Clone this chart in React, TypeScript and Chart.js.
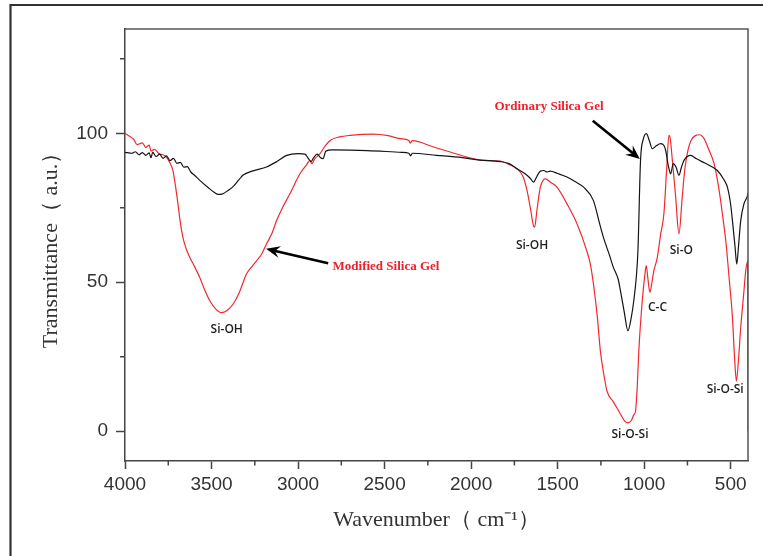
import { useEffect, useRef } from "react";
import { Chart, registerables } from "chart.js";

Chart.register(...registerables);

// ---------- data ----------
const ordinaryWavenumber = [
  4000, 3960, 3940, 3920, 3900, 3880, 3860, 3850, 3840, 3820, 3800, 3780, 3760, 3740, 3720, 3700,
  3680, 3660, 3640, 3620, 3600, 3568, 3520, 3480, 3462, 3440, 3400, 3377, 3340, 3319, 3260, 3182,
  3120, 3066, 3000, 2960, 2940, 2925, 2910, 2890, 2870, 2855, 2840, 2800, 2600, 2400, 2360, 2350,
  2340, 2200, 2050, 1950, 1831, 1780, 1735, 1690, 1660, 1639, 1620, 1600, 1581, 1560, 1542, 1500,
  1446, 1400, 1350, 1293, 1262, 1235, 1200, 1178, 1150, 1137, 1115, 1094, 1075, 1060, 1045, 1036,
  1021, 1005, 987, 970, 953, 930, 905, 885, 876, 860, 847, 832, 815, 799, 785, 770, 731, 700, 650,
  600, 577, 540, 519, 500, 490, 475, 465, 455, 442, 423, 410, 403, 400,
];
const ordinaryTransmittance = [
  93.6, 93.3, 93.8, 92.8, 93.5, 92.6, 93.4, 91.8, 93.6, 92.2, 93.0, 91.6, 92.4, 90.8, 91.6, 89.9,
  90.2, 88.6, 88.8, 87.0, 86.0, 84.2, 81.8, 80.0, 79.5, 79.6, 81.0, 82.0, 84.5, 85.9, 87.4, 88.7,
  90.6, 92.6, 93.2, 93.0, 91.5, 90.5, 91.8, 93.0, 91.8, 91.5, 94.0, 94.4, 94.2, 93.6, 93.3, 92.4,
  93.3, 92.6, 91.8, 91.0, 90.5, 89.8, 88.1, 86.5, 85.0, 83.6, 85.5, 87.3, 87.5, 87.0, 87.3, 86.5,
  85.3, 83.8, 81.9, 77.4, 70.7, 65.0, 59.0, 55.0, 51.0, 47.1, 40.0, 33.7, 38.0, 43.8, 52.0, 60.6,
  90.9, 98.0, 99.9, 97.5, 94.8, 95.8, 96.5, 95.8, 94.3, 89.0, 86.4, 89.8, 88.5, 85.9, 88.5, 90.9,
  92.6, 91.5, 90.0, 88.5, 87.5, 84.5, 81.9, 76.0, 70.7, 62.0, 56.1, 62.0, 70.7, 76.4, 78.0, 79.1,
  80.0,
];

const modifiedWavenumber = [
  4000, 3970, 3950, 3930, 3900, 3880, 3860, 3850, 3830, 3800, 3780, 3761, 3740, 3723, 3710, 3694,
  3680, 3665, 3645, 3626, 3600, 3568, 3540, 3510, 3475, 3443, 3410, 3375, 3340, 3298, 3270, 3240,
  3210, 3182, 3150, 3124, 3090, 3047, 2989, 2950, 2931, 2920, 2905, 2873, 2840, 2815, 2760, 2700,
  2565, 2480, 2410, 2360, 2352, 2340, 2217, 2121, 2024, 1928, 1831, 1780, 1735, 1700, 1677, 1655,
  1640, 1633, 1620, 1600, 1580, 1571, 1540, 1504, 1446, 1388, 1332, 1311, 1293, 1270, 1253, 1230,
  1215, 1180, 1157, 1130, 1110, 1094, 1075, 1060, 1050, 1040, 1031, 1011, 995, 988, 978, 967, 955,
  944, 925, 905, 886, 870, 857, 850, 837, 818, 799, 780, 765, 751, 730, 702, 680, 654, 630, 596,
  570, 548, 525, 510, 490, 478, 467, 455, 442, 425, 413, 402, 400,
];
const modifiedTransmittance = [
  100, 98.8, 98.0, 96.2, 96.8, 95.3, 96.0, 94.0, 94.6, 93.0, 92.8, 92.0, 90.0, 87.5, 83.0, 76.3,
  70.0, 65.0, 61.0, 58.4, 55.5, 51.6, 47.5, 43.8, 41.0, 39.8, 40.5, 42.7, 46.5, 52.8, 55.0, 57.2,
  59.5, 62.9, 66.5, 70.7, 75.0, 79.7, 86.4, 89.5, 90.9, 89.8, 91.3, 93.2, 96.0, 97.6, 98.8, 99.3,
  99.7, 99.2, 98.2, 97.6, 96.7, 97.5, 95.4, 93.7, 92.0, 90.9, 90.7, 89.5, 88.1, 85.5, 80.8, 74.0,
  69.0, 68.5, 74.0, 81.9, 84.5, 84.7, 83.5, 81.9, 76.3, 69.6, 60.6, 56.1, 49.4, 38.0, 26.9, 18.0,
  13.5, 10.0, 7.8, 5.0, 3.2, 2.8, 3.5, 5.5, 6.7, 15.0, 26.9, 43.8, 53.0, 55.6, 51.0, 46.6, 50.0,
  53.9, 58.0, 66.0, 73.0, 88.0, 99.3, 98.5, 90.9, 78.6, 66.2, 78.6, 88.0, 93.2, 97.5, 99.3, 99.5,
  98.2, 95.0, 89.8, 82.0, 73.0, 62.0, 52.0, 38.2, 25.0, 16.8, 24.0, 34.8, 46.0, 53.9, 57.0, 0,
];

const xMajorTicks = [4000, 3500, 3000, 2500, 2000, 1500, 1000, 500];
const xMinorTicks = [3750, 3250, 2750, 2250, 1750, 1250, 750];
const yMajorTicks = [0, 50, 100];
const yMinorTicks = [25, 75, 125];

const peakLabels = [
  { text: "Si-OH", x: 3412, y: 34 },
  { text: "Si-OH", x: 1648, y: 62.3 },
  { text: "Si-O", x: 785, y: 60.6 },
  { text: "C-C", x: 923, y: 41.6 },
  { text: "Si-O-Si", x: 1082, y: -1 },
  { text: "Si-O-Si", x: 532, y: 14.1 },
];

const sampleLabels = [
  { text: "Ordinary Silica Gel", x: 1550, y: 108.9, fromX: 1297, fromY: 104.2, toX: 1025, toY: 91.4 },
  { text: "Modified Silica Gel", x: 2492, y: 55.2, fromX: 2826, fromY: 56.4, toX: 3185, toY: 61.2 },
];

const SANS = "'Liberation Sans', Arial, sans-serif";
const SERIF = "'Liberation Serif', 'Times New Roman', serif";

function zip(xs: number[], ys: number[]) {
  return xs.map((x, i) => ({ x, y: ys[i] }));
}

const decorPlugin = {
  id: "decor",
  afterDraw(chart: any) {
    const ctx = chart.ctx as CanvasRenderingContext2D;
    const { left, right, top, bottom } = chart.chartArea;
    const xs = chart.scales.x;
    const ys = chart.scales.y;
    ctx.save();

    // plot frame (top & right)
    ctx.strokeStyle = "#555";
    ctx.lineWidth = 1.5;
    ctx.beginPath();
    ctx.moveTo(left, top);
    ctx.lineTo(right, top);
    ctx.lineTo(right, bottom);
    ctx.stroke();

    // minor ticks
    ctx.strokeStyle = "#444";
    ctx.lineWidth = 1.5;
    ctx.beginPath();
    for (const v of xMinorTicks) {
      const px = xs.getPixelForValue(v);
      ctx.moveTo(px, bottom);
      ctx.lineTo(px, bottom + 4.5);
    }
    for (const v of yMinorTicks) {
      const py = ys.getPixelForValue(v);
      ctx.moveTo(left, py);
      ctx.lineTo(left - 5, py);
    }
    ctx.stroke();

    // outer picture border (top & left)
    ctx.strokeStyle = "#333";
    ctx.lineWidth = 2.2;
    ctx.beginPath();
    ctx.moveTo(10.5, chart.height);
    ctx.lineTo(10.5, 5);
    ctx.lineTo(chart.width, 5);
    ctx.stroke();

    // peak labels
    ctx.fillStyle = "#1e1e1e";
    ctx.font = "600 12px 'Open Sans', 'Liberation Sans', sans-serif";
    ctx.textAlign = "center";
    ctx.textBaseline = "middle";
    for (const p of peakLabels) {
      ctx.fillText(p.text, xs.getPixelForValue(p.x), ys.getPixelForValue(p.y));
    }

    // sample labels + arrows
    for (const s of sampleLabels) {
      ctx.fillStyle = "#f0202a";
      ctx.font = `bold 13px ${SERIF}`;
      ctx.fillText(s.text, xs.getPixelForValue(s.x), ys.getPixelForValue(s.y));

      const x1 = xs.getPixelForValue(s.fromX);
      const y1 = ys.getPixelForValue(s.fromY);
      const x2 = xs.getPixelForValue(s.toX);
      const y2 = ys.getPixelForValue(s.toY);
      const len = Math.hypot(x2 - x1, y2 - y1);
      const dx = (x2 - x1) / len;
      const dy = (y2 - y1) / len;
      const nx = -dy;
      const ny = dx;
      const L = 14;
      const W = 6;
      ctx.strokeStyle = "#000";
      ctx.fillStyle = "#000";
      ctx.lineWidth = 2.6;
      ctx.beginPath();
      ctx.moveTo(x1, y1);
      ctx.lineTo(x2 - dx * L * 0.6, y2 - dy * L * 0.6);
      ctx.stroke();
      ctx.beginPath();
      ctx.moveTo(x2, y2);
      ctx.lineTo(x2 - dx * L + nx * W, y2 - dy * L + ny * W);
      ctx.lineTo(x2 - dx * L * 0.65, y2 - dy * L * 0.65);
      ctx.lineTo(x2 - dx * L - nx * W, y2 - dy * L - ny * W);
      ctx.closePath();
      ctx.fill();
    }
    ctx.restore();
  },
};

export default function App() {
  const canvasRef = useRef<HTMLCanvasElement | null>(null);

  useEffect(() => {
    document.body.style.margin = "0";
    document.body.style.background = "#fff";
    const canvas = canvasRef.current;
    if (!canvas) return;
    const chart = new Chart(canvas, {
      type: "line",
      data: {
        datasets: [
          {
            label: "Ordinary Silica Gel",
            data: zip(ordinaryWavenumber, ordinaryTransmittance),
            borderColor: "#141414",
            borderWidth: 1.2,
            pointRadius: 0,
            cubicInterpolationMode: "monotone",
            fill: false,
          },
          {
            label: "Modified Silica Gel",
            data: zip(modifiedWavenumber, modifiedTransmittance),
            borderColor: "#f2282e",
            borderWidth: 1.2,
            pointRadius: 0,
            cubicInterpolationMode: "monotone",
            fill: false,
          },
        ],
      },
      options: {
        responsive: false,
        animation: false,
        devicePixelRatio: 1,
        layout: { padding: { top: 29, right: 15, left: 0, bottom: 0 } },
        plugins: {
          legend: { display: false },
          tooltip: { enabled: false },
        },
        scales: {
          x: {
            type: "linear",
            reverse: true,
            min: 400,
            max: 4000,
            afterBuildTicks: (scale: any) => {
              scale.ticks = xMajorTicks.map((v) => ({ value: v }));
            },
            afterFit: (scale: any) => {
              scale.height = 95;
            },
            ticks: {
              autoSkip: false,
              maxRotation: 0,
              padding: 4,
              color: "#333",
              font: { family: SANS, size: 19 },
              callback: (v: any) => String(v),
            },
            grid: {
              drawOnChartArea: false,
              drawTicks: true,
              tickLength: 8,
              tickColor: "#444",
              tickWidth: 1.5,
            },
            border: { color: "#444", width: 1.5 },
            title: {
              display: true,
              text: "Wavenumber（ cm⁻¹）",
              color: "#333",
              font: { family: SERIF, size: 22 },
              padding: { top: 0, bottom: 23 },
            },
          },
          y: {
            type: "linear",
            min: -10,
            max: 135,
            afterBuildTicks: (scale: any) => {
              scale.ticks = yMajorTicks.map((v) => ({ value: v }));
            },
            afterFit: (scale: any) => {
              scale.width = 125;
            },
            ticks: {
              padding: 8,
              color: "#333",
              font: { family: SANS, size: 19 },
              callback: (v: any) => String(v),
            },
            grid: {
              drawOnChartArea: false,
              drawTicks: true,
              tickLength: 9,
              tickColor: "#444",
              tickWidth: 1.5,
            },
            border: { color: "#444", width: 1.5 },
            title: {
              display: true,
              text: "Transmittance（ a.u.）",
              color: "#333",
              font: { family: SERIF, size: 22 },
              padding: { top: 38, bottom: 0 },
            },
          },
        },
      },
      plugins: [decorPlugin],
    } as any);
    return () => chart.destroy();
  }, []);

  return (
    <div style={{ width: 763, height: 556, position: "relative" }}>
      <canvas ref={canvasRef} width={763} height={556} style={{ display: "block" }} />
    </div>
  );
}
